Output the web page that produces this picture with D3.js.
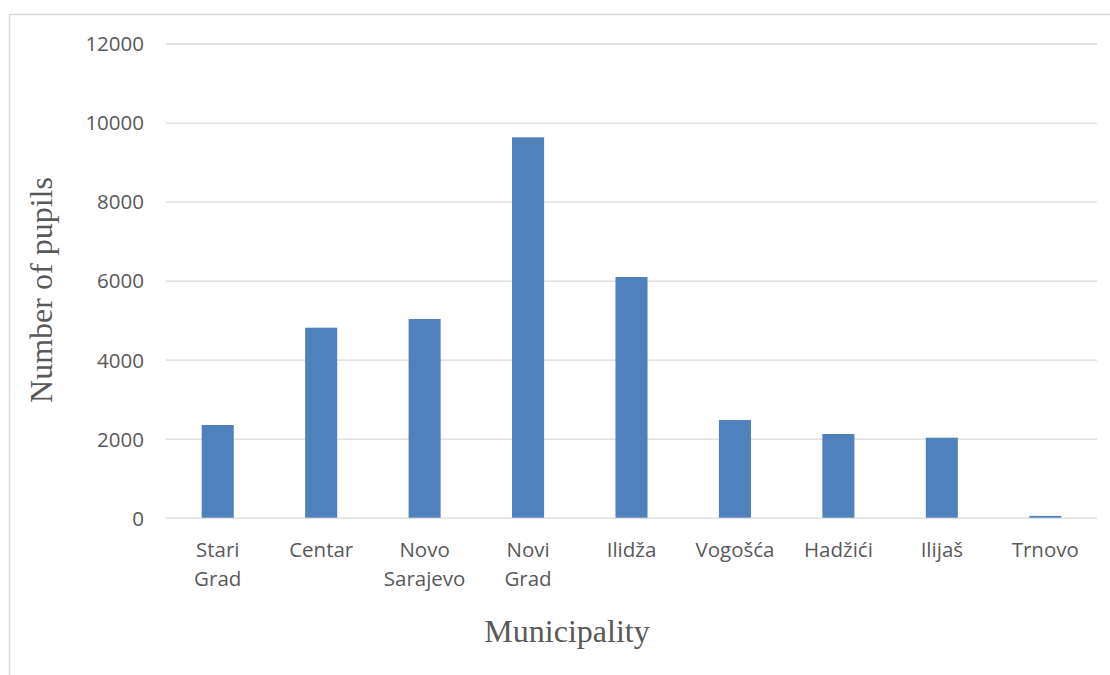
<!DOCTYPE html>
<html><head><meta charset="utf-8">
<script src="https://cdn.jsdelivr.net/npm/d3@7"></script>
<style>
html,body{margin:0;padding:0;background:#fff;overflow:hidden;}
</style>
</head><body>
<svg id="chart" width="1110" height="675"></svg>
<script>
const categories = [["Stari","Grad"],["Centar"],["Novo","Sarajevo"],["Novi","Grad"],["Ilidža"],["Vogošća"],["Hadžići"],["Ilijaš"],["Trnovo"]];
const values = [2346, 4808, 5028, 9626, 6091, 2472, 2118, 2024, 45];
const yTicks = [0, 2000, 4000, 6000, 8000, 10000, 12000];
const yTitle = "Number of pupils";
const xTitle = "Municipality";

const svg = d3.select("#chart");
const W = 1110, H = 675;
svg.append("rect").attr("x",0).attr("y",0).attr("width",W).attr("height",H).attr("fill","#fff");
// outer frame
svg.append("rect").attr("x",9.5).attr("y",14.5).attr("width",1200).attr("height",800)
  .attr("fill","none").attr("stroke","#d9d9d9").attr("stroke-width",1.3);

const keys = categories.map(c => c.join(" "));
const x = d3.scaleBand().domain(keys).range([166,1097]).paddingInner(0.69).paddingOuter(0.345);
const y = d3.scaleLinear().domain([0,12000]).range([517.7,43.5]);

// gridlines
const yAxis = d3.axisLeft(y).tickValues(yTicks).tickSize(-(1097-166)).tickPadding(22).tickFormat(d3.format("d"));
const ga = svg.append("g").attr("transform","translate(166,0)").call(yAxis);
ga.select(".domain").remove();
ga.selectAll(".tick line").attr("stroke","#d9d9d9").attr("stroke-width",1.3);
ga.selectAll(".tick text").attr("fill","#595959").attr("font-family","'Open Sans', sans-serif")
  .attr("font-size","20.5px").attr("x",-22).attr("dy","0.36em");

// bars
svg.append("g").selectAll("rect").data(values).join("rect")
  .attr("x",(d,i)=>x(keys[i]))
  .attr("y",d=>y(d))
  .attr("width",x.bandwidth())
  .attr("height",d=>y(0)-y(d))
  .attr("fill","#4f81bd");

// x axis labels
const xa = d3.axisBottom(x).tickSize(0).tickFormat("");
const gx = svg.append("g").attr("transform","translate(0,517.7)").call(xa);
gx.select(".domain").remove();
gx.selectAll(".tick").each(function(d,i){
  const t = d3.select(this).append("text").attr("fill","#595959")
    .attr("font-family","'Open Sans', sans-serif").attr("font-size","20.5px")
    .attr("text-anchor","middle");
  categories[i].forEach((line,j)=>{
    t.append("tspan").attr("x",0).attr("y",39.5 + j*28.5).text(line);
  });
});

// axis titles
svg.append("text").attr("transform","translate(52,290) rotate(-90)")
  .attr("text-anchor","middle").attr("fill","#595959")
  .attr("font-family","'Liberation Serif','Times New Roman',serif").attr("font-size","32px")
  .text(yTitle);
svg.append("text").attr("x",567).attr("y",641.5)
  .attr("text-anchor","middle").attr("fill","#595959")
  .attr("font-family","'Liberation Serif','Times New Roman',serif").attr("font-size","32px")
  .text(xTitle);
</script>
</body></html>
